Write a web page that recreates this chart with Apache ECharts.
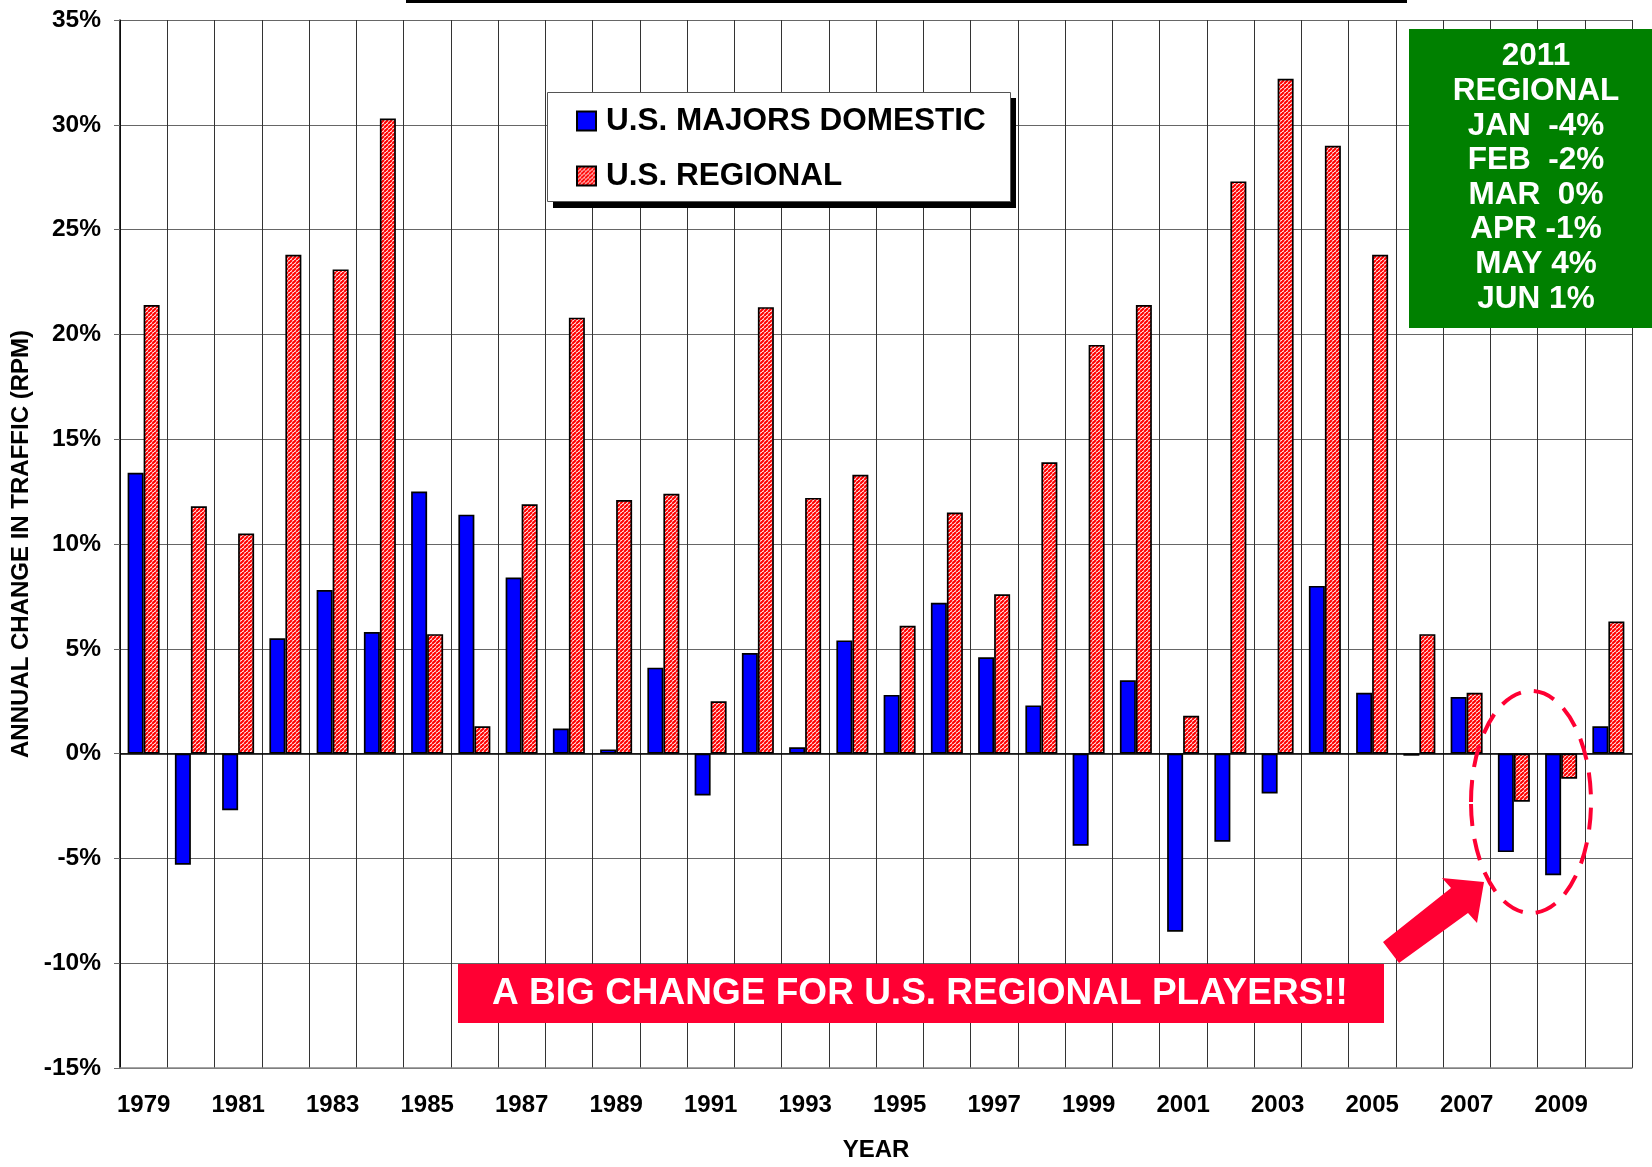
<!DOCTYPE html>
<html>
<head>
<meta charset="utf-8">
<script src="https://cdn.jsdelivr.net/npm/echarts@6/dist/echarts.min.js"></script>
<style>
  html, body { margin: 0; padding: 0; background: #fff; }
  #chart { width: 1652px; height: 1167px; }
</style>
</head>
<body>
<div id="chart"></div>
<script>
// Annual change in traffic (RPM), percent
const years = ['1979','1980','1981','1982','1983','1984','1985','1986','1987','1988',
               '1989','1990','1991','1992','1993','1994','1995','1996','1997','1998',
               '1999','2000','2001','2002','2003','2004','2005','2006','2007','2008',
               '2009','2010'];
const majorsDomestic = [13.4, -5.3, -2.7, 5.5, 7.8, 5.8, 12.5, 11.4, 8.4, 1.2,
                        0.2, 4.1, -2.0, 4.8, 0.3, 5.4, 2.8, 7.2, 4.6, 2.3,
                        -4.4, 3.5, -8.5, -4.2, -1.9, 8.0, 2.9, -0.1, 2.7, -4.7,
                        -5.8, 1.3];
const regional = [21.4, 11.8, 10.5, 23.8, 23.1, 30.3, 5.7, 1.3, 11.9, 20.8,
                  12.1, 12.4, 2.5, 21.3, 12.2, 13.3, 6.1, 11.5, 7.6, 13.9,
                  19.5, 21.4, 1.8, 27.3, 32.2, 29.0, 23.8, 5.7, 2.9, -2.3,
                  -1.2, 6.3];
const seriesNames = ['U.S. MAJORS DOMESTIC', 'U.S. REGIONAL'];
const yMin = -15, yMax = 35, yStep = 5;
const yAxisTitle = 'ANNUAL CHANGE IN TRAFFIC (RPM)';
const xAxisTitle = 'YEAR';
const noteLines = ['2011', 'REGIONAL', 'JAN  -4%', 'FEB  -2%', 'MAR  0%', 'APR -1%', 'MAY 4%', 'JUN 1%'];
const bannerText = 'A BIG CHANGE FOR U.S. REGIONAL PLAYERS!!';

const FONT = '"Liberation Sans", Arial, Helvetica, sans-serif';
const ALERT_RED = '#FF0033';

// red / white diagonal hatch used for the regional bars
function hatchPattern() {
  const c = document.createElement('canvas');
  c.width = 4; c.height = 4;
  const g = c.getContext('2d');
  g.fillStyle = '#ffffff';
  g.fillRect(0, 0, 4, 4);
  g.strokeStyle = '#ff0000';
  g.lineWidth = 2.1;
  for (let k = -4; k <= 8; k += 4) {
    g.beginPath(); g.moveTo(k, 4); g.lineTo(k + 4, 0); g.stroke();
  }
  return c;
}

const chart = echarts.init(document.getElementById('chart'), null, { renderer: 'canvas' });

const option = {
  backgroundColor: '#ffffff',
  animation: false,
  grid: { left: 120, right: 20, top: 20, bottom: 95, containLabel: false },
  legend: {
    orient: 'vertical',
    left: 576,
    top: 104,
    padding: 0,
    itemWidth: 19,
    itemHeight: 19,
    itemGap: 21,
    icon: 'rect',
    selectedMode: false,
    z: 10,
    data: seriesNames,
    textStyle: {
      fontFamily: FONT, fontSize: 31.5, fontWeight: 'bold', color: '#000',
      lineHeight: 34, padding: [0, 0, 0, 5]
    }
  },
  xAxis: {
    type: 'category',
    data: years,
    boundaryGap: true,
    name: xAxisTitle,
    nameLocation: 'middle',
    nameGap: 70,
    nameTextStyle: { fontFamily: FONT, fontSize: 24, fontWeight: 'bold', color: '#000' },
    axisLine: { onZero: false, lineStyle: { color: '#888', width: 1.5 } },
    axisTick: { show: false },
    axisLabel: {
      interval: 1, margin: 25,
      fontFamily: FONT, fontSize: 24, fontWeight: 'bold', color: '#000'
    },
    splitLine: { show: true, interval: 0, lineStyle: { color: '#333', width: 1 } }
  },
  yAxis: {
    type: 'value',
    min: yMin, max: yMax, interval: yStep,
    name: yAxisTitle,
    nameLocation: 'middle',
    nameRotate: 90,
    nameGap: 86,
    nameTextStyle: { fontFamily: FONT, fontSize: 24, fontWeight: 'bold', color: '#000' },
    axisLine: { show: true, lineStyle: { color: '#000', width: 1.5 } },
    axisTick: { show: true, inside: false, length: 6, lineStyle: { color: '#666' } },
    axisLabel: {
      margin: 19, formatter: '{value}%',
      fontFamily: FONT, fontSize: 24.5, fontWeight: 'bold', color: '#000'
    },
    splitLine: { show: true, lineStyle: { color: '#666', width: 1 } }
  },
  series: [
    {
      name: seriesNames[0],
      type: 'bar',
      data: majorsDomestic,
      barWidth: 16,
      barGap: '0%',
      itemStyle: { color: '#0000FF', borderColor: '#000', borderWidth: 1.7 },
      markLine: {
        silent: true,
        symbol: ['none', 'none'],
        label: { show: false },
        lineStyle: { color: '#000', width: 1.5, type: 'solid' },
        data: [{ yAxis: 0 }]
      }
    },
    {
      name: seriesNames[1],
      type: 'bar',
      data: regional,
      barWidth: 16,
      barGap: '0%',
      itemStyle: {
        color: { image: hatchPattern(), repeat: 'repeat' },
        borderColor: '#000', borderWidth: 1.7
      }
    }
  ],
  graphic: {
    elements: [
      // rule along the top edge
      { type: 'rect', z: 5, shape: { x: 406, y: 0, width: 1001, height: 3 }, style: { fill: '#000' } },
      // legend panel with drop shadow
      { type: 'rect', z: 3, shape: { x: 553, y: 98, width: 463, height: 110 }, style: { fill: '#000' } },
      { type: 'rect', z: 4, shape: { x: 547.5, y: 92.5, width: 463, height: 109 },
        style: { fill: '#fff', stroke: '#555', lineWidth: 1 } },
      // 2011 monthly note
      { type: 'rect', z: 4, shape: { x: 1409, y: 29, width: 250, height: 299 }, style: { fill: '#008000' } },
      { type: 'text', z: 5, x: 1536, y: 39.5,
        style: {
          text: noteLines.join('\n'), fill: '#fff', font: 'bold 31.5px ' + FONT,
          align: 'center', verticalAlign: 'top', lineHeight: 34.6
        } },
      // banner
      { type: 'rect', z: 4, shape: { x: 458, y: 964, width: 926, height: 59 }, style: { fill: ALERT_RED } },
      { type: 'text', z: 5, x: 920, y: 994,
        style: {
          text: bannerText, fill: '#fff', font: 'bold 37px ' + FONT,
          align: 'center', verticalAlign: 'middle'
        } },
      // arrow pointing at the 2008-2009 pair
      { type: 'polygon', z: 6,
        shape: { points: [[1383, 942], [1451, 888], [1442, 878], [1484, 882], [1477, 923], [1468, 913], [1399, 963]] },
        style: { fill: ALERT_RED } },
      // dashed ring around 2008-2009
      { type: 'ellipse', z: 6, shape: { cx: 1531, cy: 802, rx: 60, ry: 111 },
        style: { fill: 'none', stroke: ALERT_RED, lineWidth: 4, lineDash: [22, 13] } }
    ]
  }
};

chart.setOption(option);
</script>
</body>
</html>
